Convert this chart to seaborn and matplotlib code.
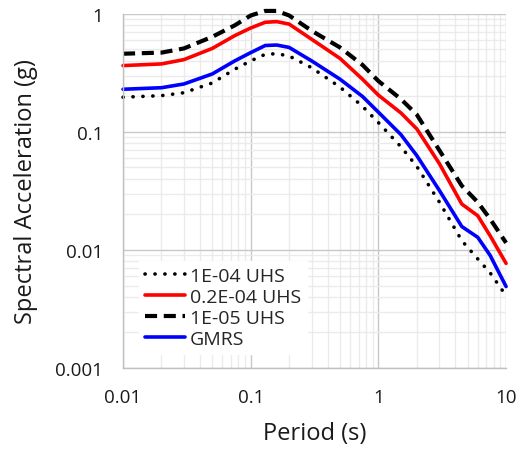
import matplotlib
matplotlib.use("Agg")
import matplotlib.pyplot as plt
import matplotlib.ticker as mticker
import numpy as np
import pandas as pd
import seaborn as sns

# Spectral periods (s)
period = [0.01, 0.02, 0.03, 0.05, 0.075, 0.1, 0.13, 0.16, 0.2, 0.3, 0.5, 0.75,
          1.0, 1.5, 2.0, 3.0, 4.5, 6.0, 7.5, 10.0]

# Spectral accelerations (g)
uhs_1e4 = [0.197, 0.203, 0.215, 0.26, 0.34, 0.40, 0.455, 0.46, 0.44, 0.35, 0.24, 0.165,
           0.12, 0.075, 0.051, 0.0255, 0.012, 0.0084, 0.0064, 0.0041]
uhs_02e4 = [0.365, 0.377, 0.41, 0.51, 0.655, 0.76, 0.85, 0.86, 0.82, 0.61, 0.42, 0.28,
            0.205, 0.145, 0.106, 0.054, 0.0245, 0.0195, 0.0132, 0.0077]
uhs_1e5 = [0.46, 0.47, 0.51, 0.64, 0.8, 0.97, 1.06, 1.06, 0.97, 0.72, 0.52, 0.37,
           0.27, 0.19, 0.14, 0.07, 0.035, 0.0254, 0.0183, 0.0115]
gmrs = [0.23, 0.237, 0.255, 0.31, 0.40, 0.47, 0.54, 0.545, 0.52, 0.40, 0.28, 0.2,
        0.147, 0.095, 0.063, 0.032, 0.0158, 0.0128, 0.009, 0.0049]

series_names = ["1E-04 UHS", "0.2E-04 UHS", "1E-05 UHS", "GMRS"]
x_ticks = [0.01, 0.1, 1, 10]
y_ticks = [0.001, 0.01, 0.1, 1]

sns.set_style("white")
plt.rcParams["font.family"] = ["Open Sans", "DejaVu Sans"]

fig = plt.figure(figsize=(5.18, 4.52), dpi=100)
ax = fig.add_axes([0.2375, 0.1836, 0.7395, 0.7834])

styles = {
    "1E-04 UHS": dict(color="black", lw=2.6, linestyle=(0, (0.05, 2.7)),
                      dash_capstyle="round", solid_capstyle="round"),
    "0.2E-04 UHS": dict(color="#ff0000", lw=2.6, linestyle="-"),
    "1E-05 UHS": dict(color="black", lw=3.0, linestyle=(0, (2.9, 1.6))),
    "GMRS": dict(color="#0000ff", lw=2.6, linestyle="-"),
}

for name, vals in zip(series_names, [uhs_1e4, uhs_02e4, uhs_1e5, gmrs]):
    df = pd.DataFrame({"Period": period, "SA": vals})
    sns.lineplot(data=df, x="Period", y="SA", ax=ax, label=name,
                 clip_on=False, **styles[name])

ax.set_xscale("log")
ax.set_yscale("log")
ax.set_xlim(0.01, 10)
ax.set_ylim(0.001, 1)

fmt = mticker.FuncFormatter(lambda v, p: f"{v:g}")
ax.xaxis.set_major_locator(mticker.FixedLocator(x_ticks))
ax.yaxis.set_major_locator(mticker.FixedLocator(y_ticks))
ax.xaxis.set_major_formatter(fmt)
ax.yaxis.set_major_formatter(fmt)
ax.xaxis.set_minor_locator(mticker.LogLocator(base=10, subs=np.arange(2, 10)))
ax.yaxis.set_minor_locator(mticker.LogLocator(base=10, subs=np.arange(2, 10)))
ax.xaxis.set_minor_formatter(mticker.NullFormatter())
ax.yaxis.set_minor_formatter(mticker.NullFormatter())

ax.grid(which="major", color="#c8c8c8", lw=1.0)
ax.grid(which="minor", color="#ebebeb", lw=1.0)
ax.set_axisbelow(True)

for side in ["top", "right"]:
    ax.spines[side].set_visible(False)
for side in ["left", "bottom"]:
    ax.spines[side].set_color("#bfbfbf")
    ax.spines[side].set_linewidth(1.0)

ax.tick_params(which="major", direction="inout", length=9, width=1.0,
               color="#bfbfbf", labelsize=13.5, pad=10, labelcolor="#1a1a1a")
ax.tick_params(which="minor", direction="inout", length=7, width=1.0,
               color="#c8c8c8")

ax.set_xlabel("Period (s)", fontsize=17, labelpad=11, color="#1a1a1a")
ax.set_ylabel("Spectral Acceleration (g)", fontsize=17, labelpad=12,
              color="#1a1a1a")

leg = ax.legend(loc="lower left", bbox_to_anchor=(0.042, 0.04), frameon=True,
                fontsize=14, handlelength=2.05, handletextpad=0.26,
                labelspacing=0.15, borderpad=0.3, borderaxespad=0)
leg.get_frame().set_edgecolor("white")
leg.get_frame().set_facecolor("white")
leg.get_frame().set_alpha(1.0)
leg.get_frame().set_boxstyle("square", pad=0)

fig.savefig("out.png", dpi=100, facecolor="white")
